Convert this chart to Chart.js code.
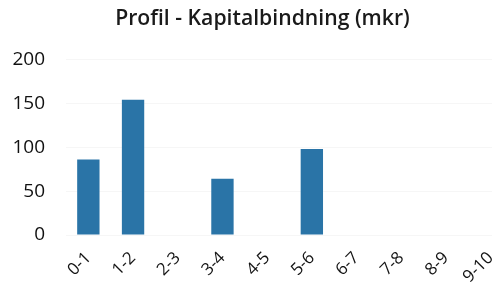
<!DOCTYPE html>
<html>
<head>
<meta charset="utf-8">
<script src="https://cdn.jsdelivr.net/npm/chart.js@4.4.1/dist/chart.umd.min.js"></script>
<style>
  html, body { margin: 0; padding: 0; background: #fff; overflow: hidden; }
  #wrap { width: 533px; height: 298px; }
</style>
</head>
<body>
<div id="wrap"><canvas id="profilChart" width="533" height="298"></canvas></div>
<script>
// intervall (år) och kapitalbindning i mkr
const categories = ['0-1', '1-2', '2-3', '3-4', '4-5', '5-6', '6-7', '7-8', '8-9', '9-10'];
const values = [86, 154, null, 64, null, 98, null, null, null, null];
const yTicks = [0, 50, 100, 150, 200];

const ctx = document.getElementById('profilChart').getContext('2d');
const profilChart = new Chart(ctx, {
    type: 'bar',
    data: {
        labels: categories,
        datasets: [{
            label: 'Kapitalbindning',
            data: values,
            backgroundColor: '#2a74a7',
            categoryPercentage: 1.0,
            barPercentage: 0.5
        }]
    },
    options: {
        responsive: false,
        animation: false,
        layout: { padding: { left: 12, right: 20, top: 0, bottom: 0 } },
        plugins: {
            legend: { display: false },
            tooltip: { enabled: false },
            title: {
                display: true,
                text: 'Profil - Kapitalbindning (mkr)',
                color: '#1a1a1a',
                font: { family: 'Open Sans', size: 21.2, weight: '600' },
                padding: { top: 6, bottom: 28 }
            }
        },
        scales: {
            x: {
                grid: { display: false },
                border: { display: false },
                ticks: {
                    color: '#141414',
                    font: { family: 'Open Sans', size: 17 },
                    minRotation: 45,
                    maxRotation: 45,
                    padding: 5
                },
                afterFit: (scale) => { scale.height = 63; }
            },
            y: {
                min: 0,
                max: 200,
                afterBuildTicks: (scale) => { scale.ticks = yTicks.map(v => ({ value: v })); },
                grid: { color: 'rgba(0,0,0,0.035)', drawTicks: false },
                border: { display: false },
                ticks: {
                    color: '#111',
                    font: { family: 'Open Sans', size: 19 },
                    padding: 21
                },
                afterFit: (scale) => { scale.width = 54; }
            }
        }
    }
});
</script>
</body>
</html>
